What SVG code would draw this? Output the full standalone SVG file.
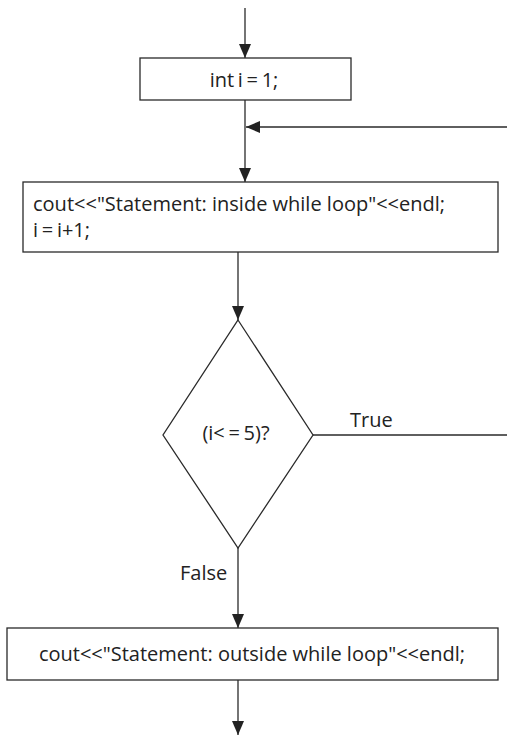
<svg xmlns="http://www.w3.org/2000/svg" width="507" height="736" viewBox="0 0 507 736">
<style>
.box{fill:#fff;stroke:#2a2a2a;stroke-width:1.3}
.ln{fill:none;stroke:#2a2a2a;stroke-width:1.3}
text{font-family:"Open Sans","Noto Sans",sans-serif;font-size:20px;fill:#222}
.tight{word-spacing:-1.5px}
</style>
<defs>
<marker id="ah" markerWidth="14" markerHeight="16" refX="14" refY="8" orient="auto" markerUnits="userSpaceOnUse">
<path d="M0,2 L14,8 L0,14 Z" fill="#222"/>
</marker>
</defs>
<g id="connectors">
<line class="ln" x1="245" y1="8" x2="245" y2="58" marker-end="url(#ah)"/>
<line class="ln" x1="245" y1="100" x2="245" y2="182" marker-end="url(#ah)"/>
<line class="ln" x1="507" y1="127" x2="246" y2="127" marker-end="url(#ah)"/>
<line class="ln" x1="238" y1="252" x2="238" y2="320" marker-end="url(#ah)"/>
<line class="ln" x1="313" y1="435" x2="507" y2="435"/>
<line class="ln" x1="238" y1="548" x2="238" y2="628" marker-end="url(#ah)"/>
<line class="ln" x1="238" y1="680" x2="238" y2="735" marker-end="url(#ah)"/>
<text x="350" y="427">True</text>
<text x="180" y="580">False</text>
</g>
<g id="init">
<rect class="box" x="140" y="58" width="211" height="42"/>
<text class="tight" x="244" y="87" text-anchor="middle">int i = 1;</text>
</g>
<g id="body">
<rect class="box" x="23" y="182" width="475" height="70"/>
<text x="33" y="211">cout&lt;&lt;"Statement: inside while loop"&lt;&lt;endl;</text>
<text class="tight" x="33" y="237">i = i+1;</text>
</g>
<g id="cond">
<polygon class="box" points="238,320 313,435 238,548 163,435"/>
<text class="tight" x="236" y="440" text-anchor="middle">(i&lt; = 5)?</text>
</g>
<g id="after">
<rect class="box" x="7" y="628" width="491" height="52"/>
<text x="252" y="661" text-anchor="middle">cout&lt;&lt;"Statement: outside while loop"&lt;&lt;endl;</text>
</g>
</svg>
